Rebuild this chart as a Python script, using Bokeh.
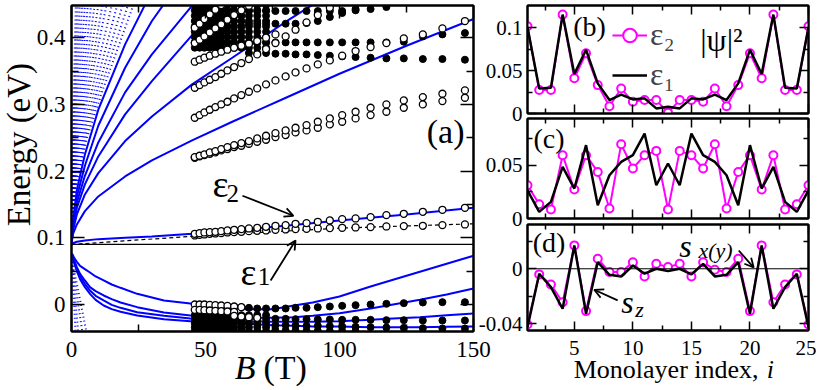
from math import pi
from bokeh.plotting import figure
from bokeh.models import (FixedTicker, LinearAxis, Range1d, Span, Label, Arrow, OpenHead,
                          CustomJSTickFormatter, Legend, LegendItem)
from bokeh.layouts import row, column
from bokeh.embed import file_html
from bokeh.resources import INLINE

SERIF = "Liberation Serif"
BLUE = "#0000ff"
MAGENTA = "#ff00ff"

# ---------------- panel (a) data ----------------
# magnetic fields of the supercell calculations (circles)
B_GRID = [46.0, 47.8, 49.6, 51.6, 53.7, 55.9, 58.2, 60.7, 63.4, 66.2, 69.3, 72.6, 76.1,
          79.9, 83.6, 87.7, 91.9, 96.4, 101.0, 106.0, 111.6, 117.5, 124.0, 131.1, 138.4, 146.8]

# open circles (values along B_GRID from its start)
EPS2 = [0.106, 0.107, 0.108, 0.1085, 0.109, 0.110, 0.111, 0.112, 0.113, 0.114, 0.115, 0.1165, 0.118,
        0.119, 0.121, 0.122, 0.124, 0.126, 0.128, 0.129, 0.131, 0.134, 0.136, 0.139, 0.142, 0.145]
EPS1 = [0.1035, 0.1045, 0.105, 0.106, 0.1065, 0.107, 0.108, 0.1085, 0.109, 0.110, 0.1105, 0.111, 0.112,
        0.1125, 0.113, 0.1135, 0.114, 0.1145, 0.115, 0.1155, 0.116, 0.117, 0.1175, 0.118, 0.119, 0.120]
U1A = [0.221, 0.223, 0.225, 0.228, 0.230, 0.233, 0.236, 0.239, 0.242, 0.245, 0.249, 0.253, 0.257,
       0.261, 0.265, 0.269, 0.274, 0.279, 0.284, 0.289, 0.295, 0.300, 0.306, 0.311, 0.316, 0.321]
U1B = [0.220, 0.222, 0.224, 0.226, 0.228, 0.231, 0.233, 0.236, 0.238, 0.241, 0.244, 0.247, 0.251,
       0.254, 0.258, 0.261, 0.265, 0.270, 0.274, 0.279, 0.284, 0.289, 0.295, 0.300, 0.305, 0.310]
U2 = [0.280, 0.284, 0.288, 0.292, 0.296, 0.300, 0.304, 0.309, 0.314, 0.319, 0.324, 0.330, 0.336,
      0.342, 0.348, 0.354, 0.360, 0.366, 0.373, 0.380, 0.386, 0.392, 0.399, 0.405, 0.414, 0.425]
U3 = [0.325, 0.329, 0.333, 0.337, 0.341, 0.346, 0.351, 0.356, 0.362, 0.368, 0.375, 0.383, 0.392,
      0.402, 0.412, 0.423, 0.434, 0.445]
U4 = [0.364, 0.367, 0.370, 0.373, 0.376, 0.379, 0.382, 0.385, 0.388, 0.391, 0.395, 0.400, 0.405]
O5 = [0.392, 0.397, 0.402, 0.408, 0.414, 0.420, 0.427, 0.434, 0.441, 0.448]
O6 = [0.415, 0.421, 0.428, 0.435, 0.442, 0.449]
LO0 = [0.0, 0.0, 0.0, -0.0005, -0.001, -0.0015, -0.002, -0.003, -0.004]
LO1 = [-0.008, -0.008, -0.0085, -0.009, -0.0095, -0.010, -0.0105, -0.011]
LO2_START = 7
LO2 = [-0.017, -0.018, -0.019, -0.020]

# filled circles
CLUSTER_N = 12
CLUSTER_UP_E = [0.385, 0.393, 0.401, 0.409, 0.417, 0.425, 0.433, 0.441, 0.449]
CLUSTER_LOW_E = [-0.016, -0.022, -0.028, -0.034, -0.040]
FU_START = 9
FU1 = [0.377, 0.377, 0.377, 0.376, 0.376, 0.375, 0.375, 0.374, 0.373, 0.372, 0.371, 0.370, 0.369,
       0.369, 0.368, 0.368, 0.367]
FU2 = [0.393, 0.393, 0.393, 0.393, 0.393, 0.393, 0.393, 0.393, 0.393, 0.393, 0.393, 0.393, 0.393,
       0.394, 0.402, 0.405, 0.407]
FU3 = [0.421, 0.421, 0.421, 0.421, 0.421, 0.421, 0.422, 0.425, 0.431, 0.437, 0.443]
FU4 = [0.440, 0.440, 0.440, 0.440, 0.440, 0.440, 0.440, 0.440, 0.440, 0.440, 0.441, 0.443, 0.446]
LF0_START = 8
LF0 = [-0.004, -0.005, -0.006, -0.006, -0.006, -0.006, -0.005, -0.005, -0.004, -0.003, -0.002,
       -0.001, 0.0, 0.001, 0.002, 0.003, 0.0035, 0.0035]
LF_START = 12
LF1 = [-0.0215, -0.0215, -0.022, -0.022, -0.0225, -0.0225, -0.023, -0.023, -0.023, -0.0235,
       -0.0235, -0.024, -0.024, -0.024]
LF2 = [-0.031, -0.031, -0.0315, -0.032, -0.032, -0.0325, -0.033, -0.0335, -0.034, -0.0345,
       -0.035, -0.0355, -0.036, -0.036]
LF3 = [-0.039, -0.039, -0.039, -0.0395, -0.0395, -0.040, -0.040, -0.040]

# Landau-level fan (blue)
B_FAN = [0, 0.5, 2, 5, 10, 20, 30, 45, 60, 80, 100, 125, 150]
FAN_A = [0.090, 0.092, 0.094, 0.096, 0.098, 0.100, 0.102, 0.106, 0.111, 0.118, 0.126, 0.135, 0.145]
FAN_B = [0.090, 0.105, 0.120, 0.140, 0.162, 0.192, 0.216, 0.246, 0.274, 0.310, 0.346, 0.388, 0.428]
FAN_C = [0.090, 0.110, 0.135, 0.165, 0.197, 0.245, 0.282, 0.330, 0.370, 0.424, 0.475, 0.540, 0.600]
FAN_D = [0.090, 0.114, 0.145, 0.180, 0.222, 0.285, 0.335, 0.404, 0.470, 0.550, 0.620, 0.700, 0.780]
FAN_E = [0.090, 0.117, 0.153, 0.193, 0.243, 0.318, 0.375, 0.448, 0.520, 0.600, 0.680, 0.780, 0.870]
FAN_F = [0.090, 0.120, 0.162, 0.208, 0.268, 0.355, 0.425, 0.510, 0.600, 0.700, 0.800, 0.900, 1.000]
FAN_G = [0.090, 0.124, 0.172, 0.225, 0.292, 0.390, 0.470, 0.560, 0.660, 0.770, 0.880, 1.000, 1.100]
FAN_DOT_E = [0.090, 0.170, 0.250, 0.320, 0.448, 0.600]
FAN_DOT_B = [[0, 1.4, 5.8, 11.5, 23, 46], [0, 1.3, 5.3, 10.5, 21, 42], [0, 1.2, 4.8, 9.5, 19, 38],
             [0, 1.1, 4.3, 8.5, 17, 34], [0, 0.9, 3.8, 7.5, 15, 30], [0, 0.8, 3.3, 6.5, 13, 26],
             [0, 0.7, 2.9, 5.8, 11.5, 23], [0, 0.6, 2.5, 5, 10, 20], [0, 0.5, 2.2, 4.3, 8.6, 17.2],
             [0, 0.46, 1.8, 3.7, 7.3, 14.6], [0, 0.38, 1.5, 3.1, 6.1, 12.2], [0, 0.31, 1.25, 2.5, 5, 10],
             [0, 0.25, 1, 2, 4, 8], [0, 0.19, 0.78, 1.55, 3.1, 6.2], [0, 0.14, 0.58, 1.15, 2.3, 4.6],
             [0, 0.1, 0.4, 0.8, 1.6, 3.2]]
LOW_B = [0.3, 1, 2, 3.2, 5, 6.9, 9, 12, 15, 18.3, 24.5, 34.5, 44.4, 55, 65, 75, 83, 90, 100,
         111.6, 120, 130, 140, 150]
LOW_1 = [0.076, 0.070, 0.064, 0.058, 0.053, 0.048, 0.042, 0.036, 0.030, 0.025, 0.016, 0.006, 0.0015,
         -0.004, -0.007, -0.007, -0.0015, 0.003, 0.012, 0.027, 0.037, 0.049, 0.061, 0.073]
LOW_2 = [0.074, 0.066, 0.056, 0.046, 0.036, 0.026, 0.020, 0.0135, 0.008, 0.003, -0.004, -0.012, -0.0165,
         -0.019, -0.020, -0.020, -0.019, -0.017, -0.013, -0.006, 0.000, 0.007, 0.015, 0.024]
LOW_3 = [0.073, 0.064, 0.053, 0.042, 0.031, 0.021, 0.013, 0.006, -0.0005, -0.005, -0.0115, -0.017, -0.021,
         -0.023, -0.025, -0.026, -0.026, -0.026, -0.025, -0.023, -0.021, -0.019, -0.016, -0.0135]
LOW_4 = [0.072, 0.062, 0.050, 0.038, 0.026, 0.016, 0.007, -0.0015, -0.007, -0.011, -0.0165, -0.022, -0.025,
         -0.027, -0.029, -0.031, -0.032, -0.033, -0.033, -0.034, -0.034, -0.034, -0.0335, -0.033]
LOW_DOT_E = [0.076, 0.055, 0.025, -0.040, -0.100]
LOW_DOT_B = [[0, 0.3, 1.0, 2.5, 5.0], [0, 0.5, 1.6, 4.0, 8.0], [0, 0.7, 2.3, 5.5, 11.0], [0, 0.2, 0.6, 1.5, 3.0]]
DASH_B = [0, 46, 100, 150]
DASH_E = [0.090, 0.1025, 0.1145, 0.121]
E_CNP = 0.09

A_XTICKS, A_XMINOR = [0, 50, 100, 150], [25, 75, 125]
A_YTICKS, A_YMINOR = [0, 0.1, 0.2, 0.3, 0.4], [0.05, 0.15, 0.25, 0.35]

# ---------------- panels (b)-(d) data ----------------
IDX = list(range(1, 26))
B_EPS2 = [0.1015, 0.0273, 0.0273, 0.115, 0.041, 0.070, 0.033, 0.0085, 0.029, 0.0136, 0.0156, 0.0156, 0.001,
          0.0156, 0.0156, 0.0136, 0.029, 0.0085, 0.033, 0.070, 0.041, 0.115, 0.0273, 0.0273, 0.1015]
B_EPS1 = [0.100, 0.029, 0.030, 0.115, 0.046, 0.074, 0.035, 0.0156, 0.022, 0.0164, 0.0176, 0.0059, 0.0078,
          0.0059, 0.0176, 0.0164, 0.022, 0.0156, 0.035, 0.074, 0.046, 0.115, 0.030, 0.029, 0.100]
C_EPS2 = [0.0312, 0.0134, 0.0084, 0.0594, 0.0272, 0.0594, 0.0437, 0.0094, 0.0697, 0.0469, 0.0594, 0.0634, 0.0084,
          0.0634, 0.0594, 0.0469, 0.0697, 0.0094, 0.0437, 0.0594, 0.0272, 0.0594, 0.0084, 0.0134, 0.0312]
C_EPS1 = [0.0265, 0.0062, 0.0156, 0.0484, 0.0281, 0.0688, 0.0125, 0.0406, 0.0531, 0.0594, 0.0797, 0.0312, 0.0516,
          0.0312, 0.0797, 0.0594, 0.0531, 0.0406, 0.0125, 0.0688, 0.0281, 0.0484, 0.0156, 0.0062, 0.0265]
D_EPS2 = [-0.0405, -0.0041, -0.0114, -0.0243, 0.017, -0.0308, 0.0073, -0.0024, -0.0024, 0.0048, -0.0056, 0.0036,
          0.0012, 0.0036, -0.0056, 0.0048, -0.0007, -0.0024, 0.0073, -0.0308, 0.017, -0.0243, -0.0114, -0.0041, -0.0405]
D_EPS1 = [-0.0425, -0.0036, -0.0134, -0.0291, 0.017, -0.0327, 0.0048, -0.0044, -0.0056, 0.0024, -0.0036, 0.0,
          -0.0017, 0.0, -0.0041, 0.0036, -0.0056, -0.0044, 0.0048, -0.0327, 0.017, -0.0291, -0.0134, -0.0036, -0.0425]

R_XTICKS, R_XMINOR = [5, 10, 15, 20, 25], [2.5, 7.5, 12.5, 17.5, 22.5]
B_YTICKS, B_YMINOR = [0, 0.05, 0.1], [0.025, 0.075]
C_YTICKS, C_YMINOR = [0, 0.05], [0.025, 0.075]
D_YTICKS, D_YMINOR = [-0.04, 0], [-0.02, 0.02]

FMT = "return tick.toString();"
NOFMT = "return '';"


def seg(start, vals):
    return B_GRID[start:start + len(vals)], vals


def dress(p, xticks, xminor, yticks, yminor, show_x, show_y, fs, tin, tmin, xstand, ystand):
    p.xgrid.visible = False
    p.ygrid.visible = False
    p.outline_line_color = "black"
    p.outline_line_width = 2
    specs = (("below", xticks, xminor, show_x, xstand), ("left", yticks, yminor, show_y, ystand),
             ("above", xticks, xminor, False, 0), ("right", yticks, yminor, False, 0))
    for place, ticks, minor, show, stand in specs:
        if place == "below":
            ax = p.below[0]
        elif place == "left":
            ax = p.left[0]
        else:
            ax = LinearAxis()
            p.add_layout(ax, place)
        ax.ticker = FixedTicker(ticks=ticks, minor_ticks=minor)
        ax.formatter = CustomJSTickFormatter(code=FMT if show else NOFMT)
        ax.major_tick_in = tin
        ax.major_tick_out = 0
        ax.minor_tick_in = tmin
        ax.minor_tick_out = 0
        ax.axis_line_width = 2
        ax.axis_line_color = "black"
        ax.major_tick_line_width = 1.5
        ax.minor_tick_line_width = 1.5
        ax.major_label_text_font = SERIF
        ax.major_label_text_color = "black"
        ax.major_label_text_font_size = f"{fs}px" if show else "0px"
        ax.major_label_standoff = stand if show else 0


def txt(p, x, y, s, size, style="normal", align="left", baseline="alphabetic", angle=0):
    p.add_layout(Label(x=x, y=y, text=s, text_font=SERIF, text_font_size=f"{size}px", angle=angle,
                       text_font_style=style, text_align=align, text_baseline=baseline,
                       text_color="black"))


def arrow(p, x0, y0, x1, y1):
    p.add_layout(Arrow(x_start=x0, y_start=y0, x_end=x1, y_end=y1, line_width=1.8, line_color="black",
                       end=OpenHead(size=9, line_width=1.8, line_color="black")))


def strip(w, h):
    s = figure(width=w, height=h, x_range=Range1d(0, w), y_range=Range1d(0, h), min_border=0,
               x_axis_location=None, y_axis_location=None, output_backend="svg", toolbar_location=None,
               background_fill_alpha=0, border_fill_alpha=0, outline_line_color=None)
    s.xgrid.visible = False
    s.ygrid.visible = False
    return s


# ---------------- panel (a) ----------------
pa = figure(width=495, height=389, x_range=Range1d(0, 150), y_range=Range1d(-0.0405, 0.4483),
            min_border_left=71, min_border_right=22, min_border_top=5, min_border_bottom=58,
            output_backend="svg", toolbar_location=None,
            background_fill_color="white", border_fill_alpha=0)
dress(pa, A_XTICKS, A_XMINOR, A_YTICKS, A_YMINOR, True, True, 23, 13, 7, 10, 6)

for bl in FAN_DOT_B:
    pa.line(bl, FAN_DOT_E, line_color=BLUE, line_width=2, line_dash="1 3")
for bl in LOW_DOT_B:
    pa.line(bl, LOW_DOT_E, line_color=BLUE, line_width=2, line_dash="1 3")
for curve in (FAN_A, FAN_B, FAN_C, FAN_D, FAN_E, FAN_F, FAN_G):
    pa.line(B_FAN, curve, line_color=BLUE, line_width=2)
for curve in (LOW_1, LOW_2, LOW_3, LOW_4):
    pa.line(LOW_B, curve, line_color=BLUE, line_width=2)
pa.line(DASH_B, DASH_E, line_color="black", line_width=1.2, line_dash="4 3")
pa.add_layout(Span(location=E_CNP, dimension="width", line_color="black", line_width=1.3))

filled = dict(marker="circle", size=7, fill_color="black", line_color="black", line_width=1)
opened = dict(marker="circle", size=7, fill_color="white", line_color="black", line_width=1.3)

for e in CLUSTER_UP_E + CLUSTER_LOW_E:
    pa.scatter(B_GRID[:CLUSTER_N], [e] * CLUSTER_N, **filled)
for vals in (FU1, FU2, FU3, FU4):
    pa.scatter(*seg(FU_START, vals), **filled)
pa.scatter(*seg(LF0_START, LF0), **filled)
for vals in (LF1, LF2, LF3):
    pa.scatter(*seg(LF_START, vals), **filled)

for vals in (EPS1, EPS2, U1B, U1A, U2, U3, U4, O5, O6, LO0, LO1):
    pa.scatter(*seg(0, vals), **opened)
pa.scatter(*seg(LO2_START, LO2), **opened)

# annotations of (a)
txt(pa, 139.6, 0.259, "(a)", 34, align="center", baseline="middle")
txt(pa, 52.6, 0.181, "ε", 38)
txt(pa, 57.8, 0.166, "2", 25)
txt(pa, 63.1, 0.049, "ε", 38)
txt(pa, 69.5, 0.042, "1", 25)
arrow(pa, 63.8, 0.163, 82.8, 0.133)
arrow(pa, 74.3, 0.036, 83.6, 0.096)

# axis titles of (a), in transparent strips laid over the figure's borders
strip_e = strip(45, 389)
txt(strip_e, 18, 223, "Energy (eV)", 33, align="center", baseline="middle", angle=pi / 2)
pa.margin = (0, 0, 0, -45)
strip_b = strip(495, 44)
strip_b.margin = (-44, 0, 0, 0)
txt(strip_b, 255, 22, "B", 34, style="italic", align="right")
txt(strip_b, 263, 22, "(T)", 34)


# ---------------- panels (b)-(d) ----------------
def panel(h, top, bottom, yr):
    return figure(width=343, height=h, x_range=Range1d(1, 25), y_range=Range1d(*yr),
                  min_border_left=54, min_border_right=8, min_border_top=top, min_border_bottom=bottom,
                  output_backend="svg", toolbar_location=None,
                  background_fill_color="white", border_fill_alpha=0)


def draw_pair(p, e2, e1):
    r1 = p.line(IDX, e2, line_color=MAGENTA, line_width=2)
    r2 = p.scatter(IDX, e2, marker="circle", size=8, fill_color="white", line_color=MAGENTA, line_width=2)
    r3 = p.line(IDX, e1, line_color="black", line_width=2.5)
    return r1, r2, r3


pb = panel(127, 5, 14, (0, 0.1256))
dress(pb, R_XTICKS, R_XMINOR, B_YTICKS, B_YMINOR, False, True, 21, 9, 5, 10, 5)
rb = draw_pair(pb, B_EPS2, B_EPS1)
leg = Legend(items=[LegendItem(label="ε₂", renderers=[rb[0], rb[1]]),
                    LegendItem(label="ε₁", renderers=[rb[2]])],
             location=(85, 20), orientation="vertical", background_fill_alpha=0, border_line_alpha=0,
             padding=0, spacing=3, margin=0, glyph_width=35, glyph_height=34, label_height=34,
             label_standoff=3, label_text_font=SERIF, label_text_font_size="32px",
             label_text_baseline="bottom")
pb.add_layout(leg)
txt(pb, 6.3, 0.101, "(b)", 28, align="center", baseline="middle")
txt(pb, 15.75, 0.086, "|ψ|²", 32, baseline="middle")

pc = panel(126, 12, 14, (0, 0.0938))
pc.margin = (-21, 0, 0, 0)
dress(pc, R_XTICKS, R_XMINOR, C_YTICKS, C_YMINOR, False, True, 21, 9, 5, 10, 5)
draw_pair(pc, C_EPS2, C_EPS1)
txt(pc, 2.84, 0.0753, "(c)", 28, align="center", baseline="middle")

pd = panel(177, 12, 59, (-0.0449, 0.0322))
pd.margin = (-20, 0, 0, 0)
dress(pd, R_XTICKS, R_XMINOR, D_YTICKS, D_YMINOR, True, True, 21, 9, 5, 10, 5)
pd.add_layout(Span(location=0, dimension="width", line_color="black", line_width=1))
draw_pair(pd, D_EPS2, D_EPS1)
txt(pd, 2.84, 0.0191, "(d)", 28, align="center", baseline="middle")
txt(pd, 13.97, 0.0169, "s", 32, style="italic")
txt(pd, 15.6, 0.0133, "x(y)", 22, style="italic")
arrow(pd, 19.04, 0.0133, 20.32, 0.0009)
txt(pd, 9.0, -0.0239, "s", 32, style="italic")
txt(pd, 10.2, -0.0297, "z", 22, style="italic")
arrow(pd, 8.7, -0.023, 6.7, -0.0153)

strip_m = strip(343, 40)
strip_m.margin = (-40, 0, 0, 0)
txt(strip_m, 290, 20, "Monolayer index, ", 26, align="right")
txt(strip_m, 292, 20, "i", 26, style="italic")

left_block = column(row(strip_e, pa), strip_b)
right = column(pb, pc, pd, strip_m, margin=(0, 0, 0, -22))
layout = row(left_block, right)

open("out.html", "w").write(file_html(layout, INLINE))
